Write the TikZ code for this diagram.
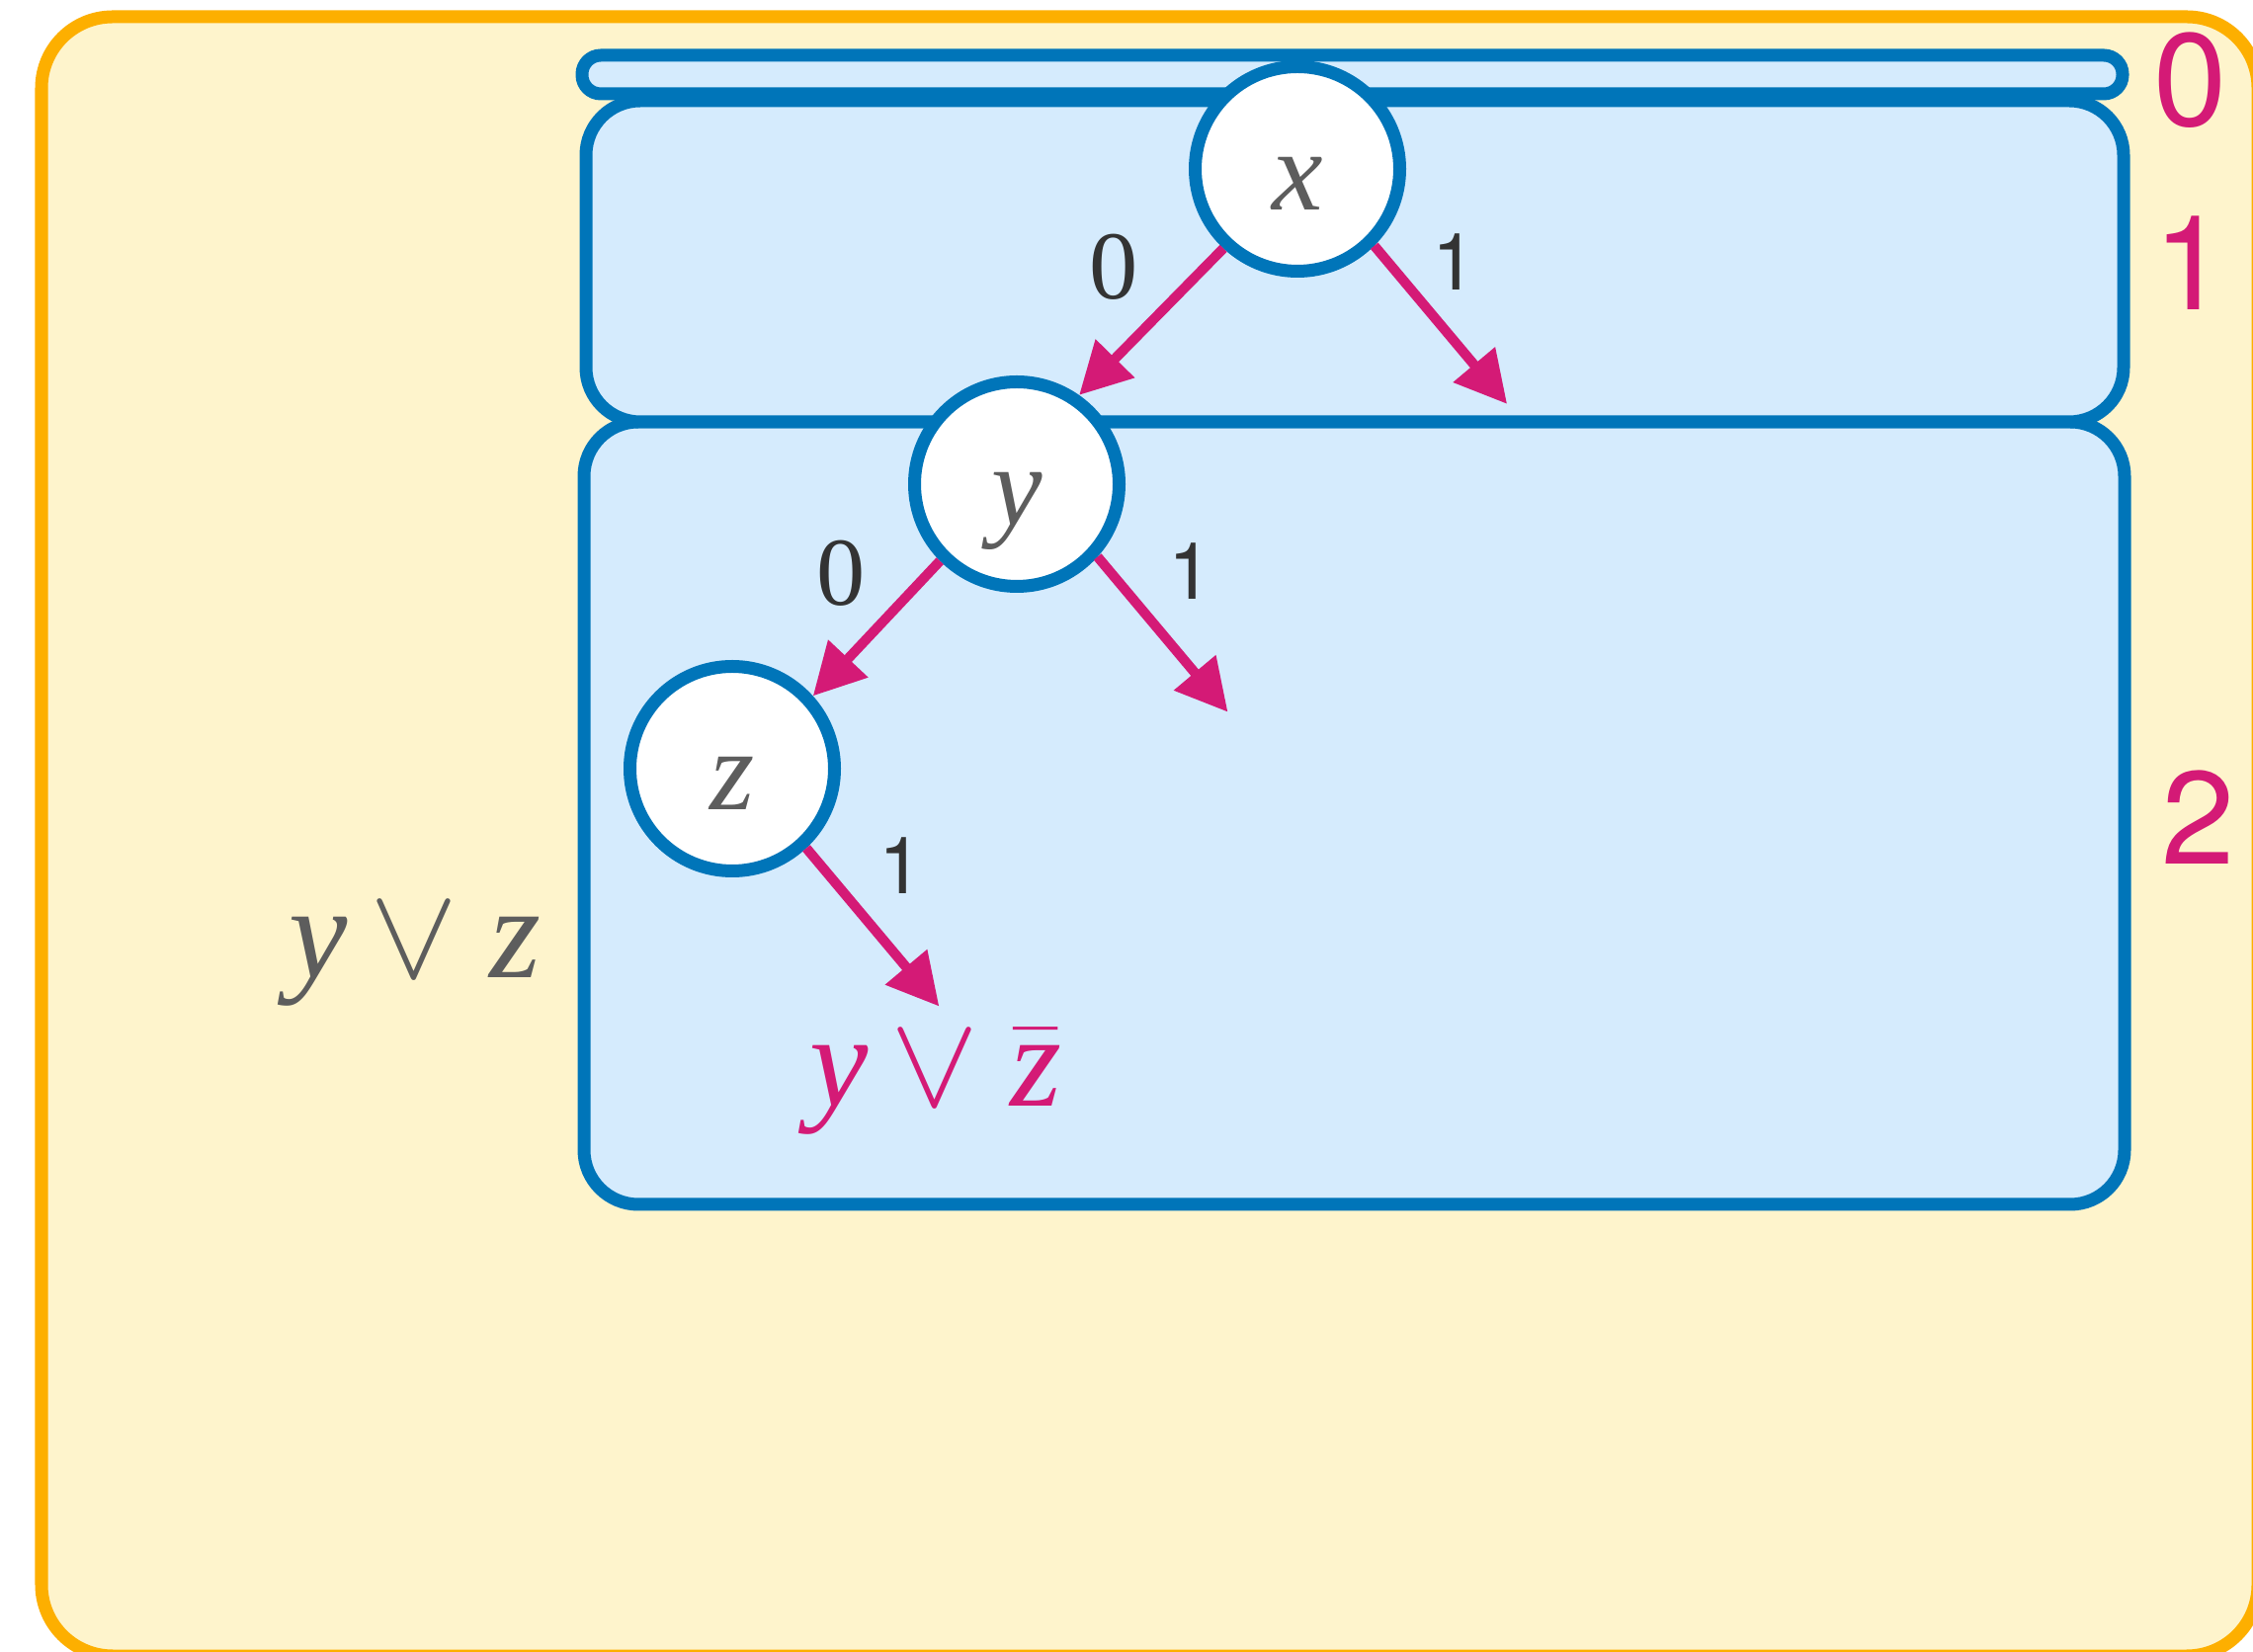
\RequirePackage{fix-cm}
\documentclass[tikz,border=0pt]{standalone}
\usepackage{fontspec}
\setmainfont{Liberation Serif}
\setsansfont{TeX Gyre Heros}
\usetikzlibrary{arrows.meta}
\definecolor{cream}{HTML}{FEF4CC}
\definecolor{amber}{HTML}{FDAF00}
\definecolor{paleblue}{HTML}{D5EBFD}
\definecolor{bddblue}{HTML}{0075B9}
\definecolor{edgepink}{HTML}{D41A76}
\definecolor{lettergray}{HTML}{5D5D5D}
\definecolor{labelgray}{HTML}{333333}
\begin{document}
\begin{tikzpicture}[
  band/.style={draw=bddblue, fill=paleblue, line width=0.13cm},
  vnode/.style={circle, draw=bddblue, fill=white, line width=0.13cm, minimum size=2.07cm,
    inner sep=0pt, text height=0.84cm, text depth=0pt, text=lettergray,
    font=\fontsize{33}{40}\selectfont\itshape},
  branch/.style={edgepink, line width=0.1cm, -{Triangle[length=0.52cm,width=0.53cm]}},
  zerolab/.style={text=labelgray, font=\fontsize{28}{30}\selectfont},
  onelab/.style={text=labelgray, font=\sffamily\fontsize{22.8}{26}\selectfont},
  ranklab/.style={text=edgepink, font=\sffamily\fontsize{38}{44}\selectfont},
  clause/.style={anchor=base, font=\fontsize{38}{44}\selectfont\itshape}
]
  \useasboundingbox (0,0) rectangle (22.8,16.71);
  % outer frame and the three levels
  \draw[fill=cream, draw=amber, line width=0.13cm, rounded corners=0.72cm] (0.42,16.54) rectangle (22.85,-0.05);
  \draw[band, rounded corners=0.55cm] (5.91,12.44) rectangle (21.50,4.52);
  \draw[band, rounded corners=0.55cm] (5.93,15.69) rectangle (21.49,12.44);
  \draw[band, rounded corners=0.19cm] (5.89,16.15) rectangle (21.48,15.76);
  \node[ranklab] (r0) at (22.17,15.90) {0};
  \node[ranklab] (r1) at (22.17,14.05) {1};
  \node[ranklab] (r2) at (22.25,8.44) {2};
  % decision nodes
  \node[vnode] (vx) at (13.13,15.00) {x};
  \node[vnode] (vy) at (10.29,11.81) {y};
  \node[vnode] (vz) at (7.41,8.93) {z};
  \coordinate (xr) at ([shift={(-50:2.09)}]vx.-45);
  \coordinate (yr) at ([shift={(-50:2.05)}]vy.-42);
  \coordinate (zr) at ([shift={(-50:2.09)}]vz.-47);
  \draw[branch] (vx.-133) -- (vy.55);
  \draw[branch] (vx.-45) -- (xr);
  \draw[branch] (vy.-135) -- (vz.42);
  \draw[branch] (vy.-42) -- (yr);
  \draw[branch] (vz.-47) -- (zr);
  \node[zerolab] (lx0) at (11.27,14.01) {0};
  \node[onelab] (lx1) at (14.72,14.06) {1};
  \node[zerolab] (ly0) at (8.51,10.91) {0};
  \node[onelab] (ly1) at (12.05,10.93) {1};
  \node[onelab] (lz1) at (9.12,7.95) {1};
  % clauses
  \node[clause, text=lettergray] (cl) at (4.20,6.81) {y\,$\vee$\hspace{0.32cm}z};
  \node[clause, text=edgepink] (cr) at (9.47,5.51) {y\,$\vee$\hspace{0.32cm}$\bar{\mbox{\itshape z}}$};
\end{tikzpicture}
\end{document}
